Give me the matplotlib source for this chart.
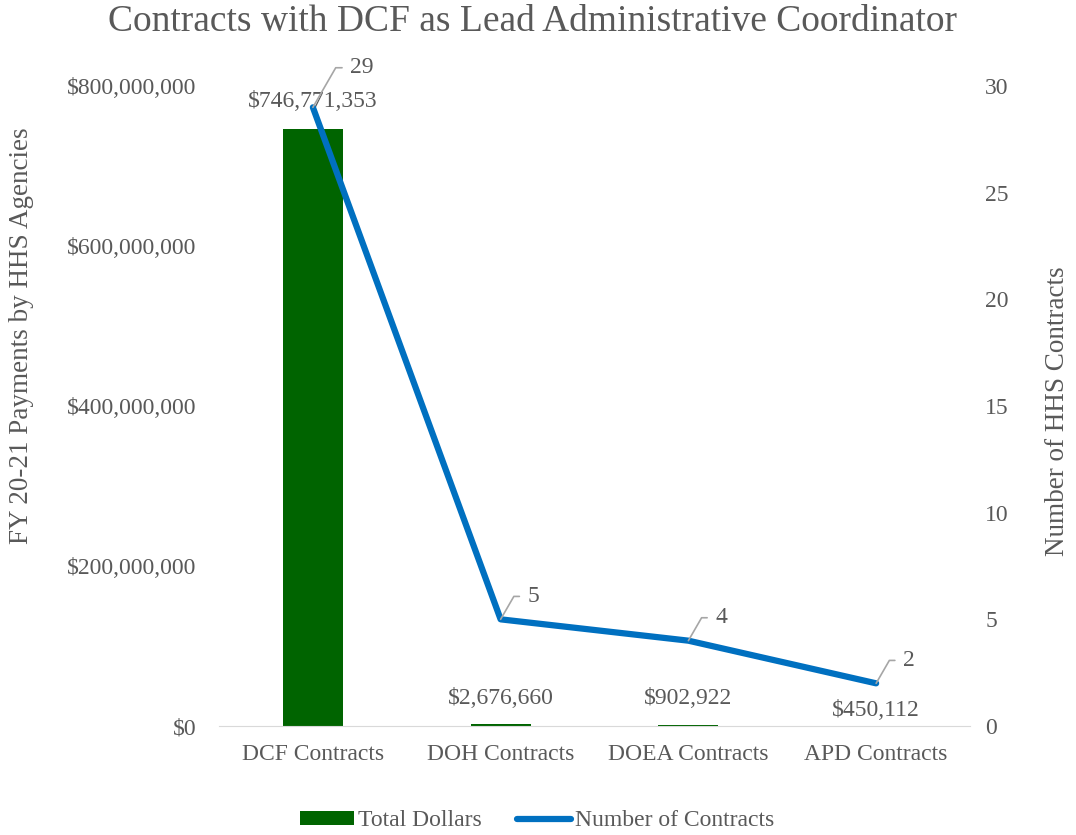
import matplotlib
matplotlib.use("Agg")
import matplotlib.pyplot as plt
from matplotlib.ticker import FuncFormatter, MultipleLocator

categories = ["DCF Contracts", "DOH Contracts", "DOEA Contracts", "APD Contracts"]
total_dollars = [746771353, 2676660, 902922, 450112]
num_contracts = [29, 5, 4, 2]

plt.rcParams['font.family'] = ['Liberation Serif', 'DejaVu Serif']
gray = '#595959'

fig = plt.figure(figsize=(10.76, 8.35), dpi=100)
ax = fig.add_axes([219/1076, 1-726/835, (970-219)/1076, (726-86)/835])
ax2 = ax.twinx()

x = list(range(len(categories)))
ax.bar(x, total_dollars, width=0.32, color='#006400', label='Total Dollars', zorder=2)
ax2.plot(x, num_contracts, color='#0070C0', lw=4.5, solid_capstyle='round', label='Number of Contracts', zorder=3)

ax.set_xlim(-0.5, 3.5)
ax.set_ylim(0, 800000000)
ax2.set_ylim(0, 30)
ax.yaxis.set_major_locator(MultipleLocator(200000000))
ax2.yaxis.set_major_locator(MultipleLocator(5))
ax.yaxis.set_major_formatter(FuncFormatter(lambda v, p: "${:,.0f}".format(v)))
ax.set_xticks(x)
ax.set_xticklabels(categories)

for a in (ax, ax2):
    for s in a.spines.values():
        s.set_visible(False)
    a.tick_params(length=0, labelsize=17, colors=gray)
ax.spines['bottom'].set_visible(True)
ax.spines['bottom'].set_color('#D9D9D9')
ax.tick_params(axis='y', pad=16)
ax.tick_params(axis='x', pad=13)
ax2.tick_params(axis='y', pad=11)

ax.set_ylabel("FY 20-21 Payments by HHS Agencies", fontsize=19.5, color=gray)
ax.yaxis.label.set_va('center')
ax.yaxis.label.set_ha('center')
ax.yaxis.set_label_coords((22-219)/751, (726-336)/640)
ax2.set_ylabel("Number of HHS Contracts", fontsize=19.5, color=gray)
ax2.yaxis.label.set_va('center')
ax2.yaxis.label.set_ha('center')
ax2.yaxis.set_label_coords((1058-219)/751, (726-411)/640)
fig.text(532/1076, 1-22/835, "Contracts with DCF as Lead Administrative Coordinator",
         fontsize=27, color=gray, ha='center', va='center')

# bar labels (offset in points above bar top)
bar_offsets = [19.5, 18, 19, 11]
for i, (v, off) in enumerate(zip(total_dollars, bar_offsets)):
    ax.annotate("${:,.0f}".format(v), (i, v), xytext=(0, off),
                textcoords='offset points', ha='center', va='center', fontsize=17, color=gray)

# line labels with leader lines
line_offsets = [(27, 28.5), (19.5, 16.5), (19.5, 16.5), (19.5, 16.5)]
for i, (v, off) in enumerate(zip(num_contracts, line_offsets)):
    ax2.annotate(str(v), (i, v), xytext=off, textcoords='offset points',
                 ha='left', va='center', fontsize=17, color=gray,
                 arrowprops=dict(arrowstyle='-', color='#A6A6A6', lw=1.2,
                                 connectionstyle='angle,angleA=0,angleB=60,rad=0',
                                 shrinkA=4, shrinkB=0))

h1, l1 = ax.get_legend_handles_labels()
h2, l2 = ax2.get_legend_handles_labels()
fig.legend(h1 + h2, l1 + l2, loc='center', bbox_to_anchor=(537/1076, 1-821/835), ncol=2,
           frameon=False, fontsize=17, labelcolor=gray, handlelength=2.3, handleheight=0.5,
           handletextpad=0.15, columnspacing=1.5)

fig.savefig("out.png", dpi=100)
